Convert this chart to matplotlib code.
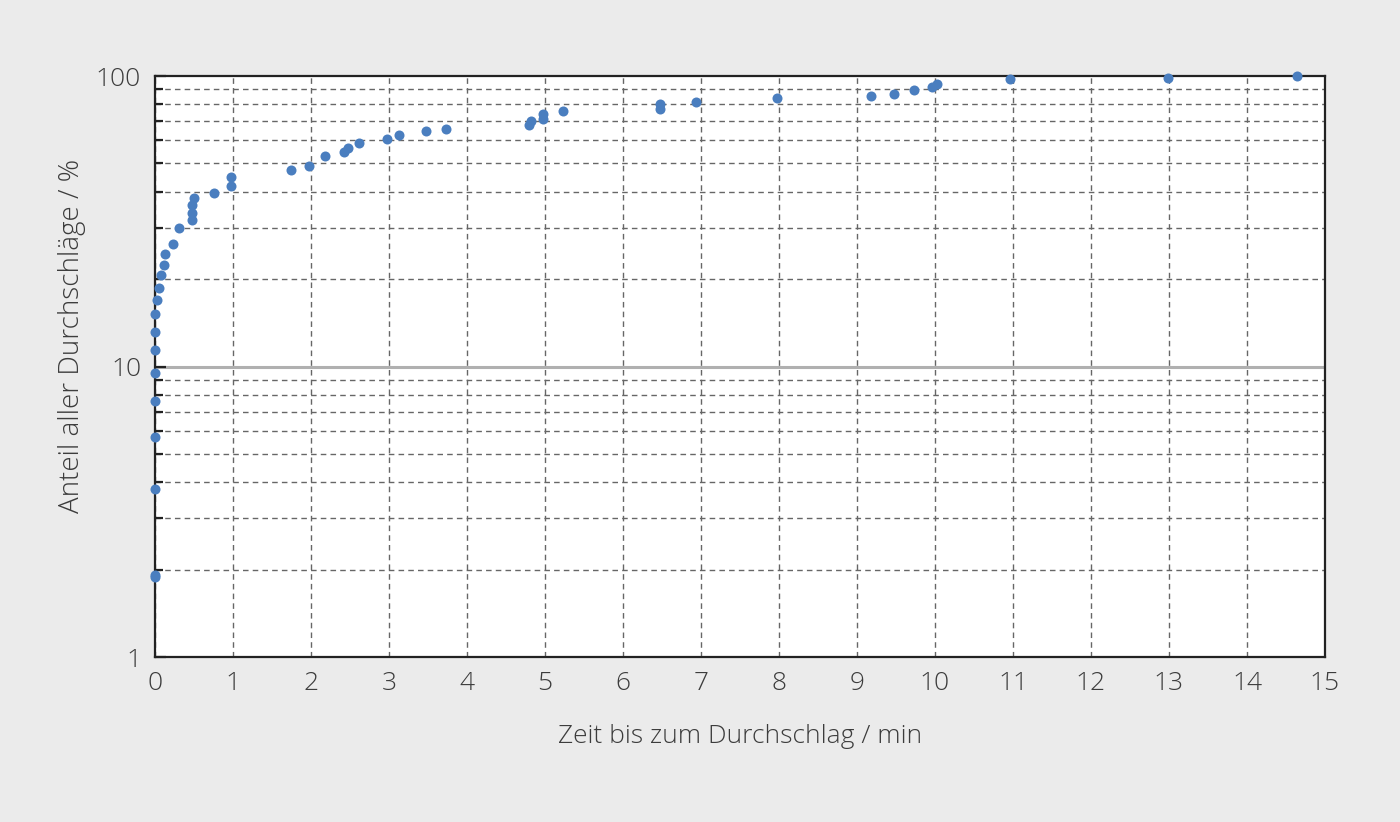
import matplotlib
matplotlib.use("Agg")
import matplotlib.pyplot as plt
from matplotlib.ticker import LogLocator, FixedLocator, NullFormatter

# Data: time to breakdown (min) vs cumulative share of breakdowns (%)
zeit_min = [0.0, 0.005, 0.0, 0.0, 0.0, 0.0, 0.0, 0.0, 0.0, 0.02, 0.05, 0.08, 0.11,
            0.13, 0.23, 0.31, 0.47, 0.47, 0.47, 0.5, 0.76, 0.97, 0.97, 1.74,
            1.97, 2.18, 2.42, 2.47, 2.62, 2.97, 3.13, 3.47, 3.73, 4.79, 4.82,
            4.97, 4.97, 5.23, 6.47, 6.47, 6.94, 7.97, 9.18, 9.47, 9.73, 9.96,
            10.02, 10.96, 12.99, 14.64]
anteil_pct = [1.88, 1.92, 3.8, 5.7, 7.6, 9.5, 11.4, 13.1, 15.2, 17.0, 18.7, 20.7,
              22.4, 24.4, 26.4, 30.1, 31.9, 33.9, 36.1, 38.1, 39.6, 41.7, 44.9,
              47.5, 49.0, 53.0, 54.7, 56.6, 58.6, 60.5, 62.6, 64.7, 65.7, 67.8,
              70.2, 71.1, 73.8, 76.0, 76.8, 79.9, 81.2, 83.8, 85.3, 86.7, 89.5,
              91.4, 93.6, 97.7, 98.4, 100.0]
x_ticks = list(range(0, 16))
y_major = [1, 10, 100]

plt.rcParams['font.family'] = ['Open Sans', 'DejaVu Sans']

fig = plt.figure(figsize=(14, 8.22), dpi=100, facecolor='#ebebeb')
ax = fig.add_axes([0.1107, 0.2007, 0.8357, 0.7068])
ax.set_facecolor('white')

ax.set_yscale('log')
ax.set_xlim(0, 15)
ax.set_ylim(1, 100)

ax.scatter(zeit_min, anteil_pct, s=52, color='#4a7ebf', zorder=5, clip_on=False,
           linewidths=0)

# grid
ax.xaxis.set_major_locator(FixedLocator(x_ticks))
ax.yaxis.set_major_locator(FixedLocator(y_major))
ax.yaxis.set_minor_locator(LogLocator(base=10, subs=range(2, 10)))
ax.yaxis.set_minor_formatter(NullFormatter())
ax.set_yticklabels(['1', '10', '100'])

ax.grid(which='major', axis='x', linestyle=(0, (4, 3)), color='#666666', linewidth=1.0)
ax.grid(which='minor', axis='y', linestyle=(0, (4, 3)), color='#666666', linewidth=1.0)
ax.axhline(10, color='#b0b0b0', linewidth=2.2, zorder=1)

for s in ax.spines.values():
    s.set_color('#222222')
    s.set_linewidth(1.6)

txt_col = '#3c3c3c'
ax.tick_params(axis='x', which='both', length=0, pad=10, labelsize=19, labelcolor=txt_col)
ax.tick_params(axis='y', which='major', direction='in', length=8, width=1.6,
               color='#222222', pad=10, labelsize=19, labelcolor=txt_col)
ax.tick_params(axis='y', which='minor', direction='in', length=6, width=1.6,
               color='#222222')

for lab in ax.get_xticklabels() + ax.get_yticklabels():
    lab.set_fontweight('light')

ax.set_xlabel('Zeit bis zum Durchschlag / min', fontsize=19, color=txt_col,
              labelpad=20, fontweight='light')
ax.set_ylabel('Anteil aller Durchschläge / %', fontsize=20, color=txt_col,
              fontweight='light')
ax.yaxis.set_label_coords(-0.059, 0.553)

fig.savefig('out.png', dpi=100, facecolor=fig.get_facecolor())
